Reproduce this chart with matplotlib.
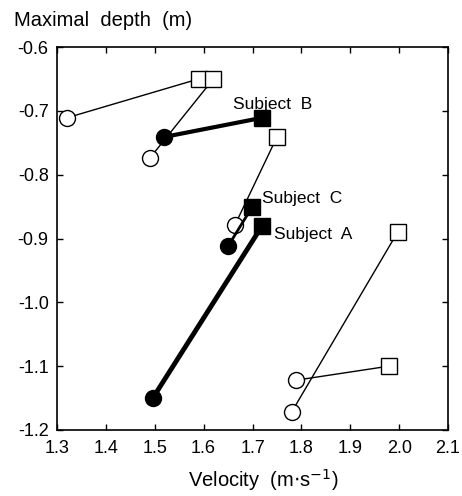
import numpy as np
import matplotlib.pyplot as plt

plt.rcParams['font.family'] = ['Liberation Sans', 'DejaVu Sans']

# each pair: (circle point, square point)
open_vel = [[1.32, 1.59], [1.49, 1.62], [1.664, 1.75], [1.78, 1.997], [1.789, 1.979]]
open_depth = [[-0.711, -0.65], [-0.774, -0.65], [-0.879, -0.741], [-1.172, -0.89], [-1.122, -1.10]]

subjects = ['Subject B', 'Subject C', 'Subject A']
filled_vel = [[1.519, 1.719], [1.65, 1.699], [1.496, 1.719]]
filled_depth = [[-0.741, -0.711], [-0.912, -0.851], [-1.15, -0.881]]
line_w = [3.0, 2.0, 3.5]
label_pos = [(1.66, -0.69), (1.72, -0.838), (1.745, -0.893)]

fig = plt.figure(figsize=(4.62, 4.96), dpi=100)
ax = fig.add_axes([57/462, 1-430/496, 391/462, 383/496])

for xs, ys in zip(open_vel, open_depth):
    ax.plot(xs, ys, color='black', lw=1.0, zorder=2)
    ax.plot(xs[0], ys[0], 'o', ms=11.5, mfc='white', mec='black', mew=1.0, zorder=3)
    ax.plot(xs[1], ys[1], 's', ms=11.5, mfc='white', mec='black', mew=1.0, zorder=3)

for xs, ys, w, name, pos in zip(filled_vel, filled_depth, line_w, subjects, label_pos):
    ax.plot(xs, ys, color='black', lw=w, zorder=4)
    ax.plot(xs[0], ys[0], 'o', ms=11.5, mfc='black', mec='black', zorder=5)
    ax.plot(xs[1], ys[1], 's', ms=11.5, mfc='black', mec='black', zorder=5)
    ax.text(pos[0], pos[1], name.replace(' ', '  '), fontsize=12.5, va='center', ha='left')

ax.set_xlim(1.3, 2.1)
ax.set_ylim(-1.2, -0.6)
ax.set_xticks(np.arange(1.3, 2.11, 0.1))
ax.set_xticklabels(['1.3', '1.4', '1.5', '1.6', '1.7', '1.8', '1.9', '2.0', '2.1'])
ax.set_yticks(np.arange(-1.2, -0.59, 0.1))
ax.set_yticklabels(['-1.2', '-1.1', '-1.0', '-0.9', '-0.8', '-0.7', '-0.6'])
ax.tick_params(direction='in', top=True, right=True, labelsize=13, length=4, width=1)
ax.tick_params(axis='y', pad=6)
ax.tick_params(axis='x', pad=7)
for s in ax.spines.values():
    s.set_linewidth(1.2)

fig.text(14/462, 1-21/496, 'Maximal  depth  (m)', fontsize=14.5, va='center', ha='left')
fig.text(263/462, 1-480/496, 'Velocity  (m$\\cdot$s$^{-1}$)', fontsize=14.5, va='center', ha='center')

fig.savefig('out.png', dpi=100)
